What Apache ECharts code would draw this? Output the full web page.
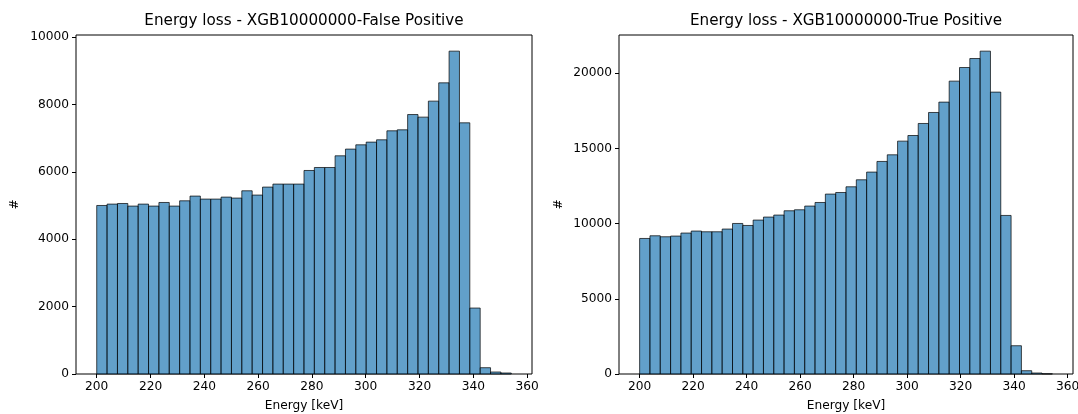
<!DOCTYPE html>
<html>
<head>
<meta charset="utf-8">
<script src="https://cdn.jsdelivr.net/npm/echarts@6/dist/echarts.min.js"></script>
<style>
html,body{margin:0;padding:0;background:#fff;}
#c{width:1078px;height:414px;}
</style>
</head>
<body>
<div id="c"></div>
<script>
// ---- data ----
const titles = ['Energy loss - XGB10000000-False Positive', 'Energy loss - XGB10000000-True Positive'];
const xLabel = 'Energy [keV]';
const yLabel = '#';
const leftRange = [200, 354.1];   // histogram range (keV)
const rightRange = [200, 354.3];
const xTicks = [200, 220, 240, 260, 280, 300, 320, 340, 360];
const leftYTicks = [0, 2000, 4000, 6000, 8000, 10000];
const rightYTicks = [0, 5000, 10000, 15000, 20000];
const leftCounts = [5003, 5044, 5062, 4985, 5044, 4985, 5092, 4985, 5142, 5282,
  5193, 5193, 5252, 5223, 5439, 5312, 5549, 5638, 5638, 5638,
  6042, 6131, 6131, 6478, 6677, 6804, 6884, 6953, 7220, 7249,
  7703, 7626, 8101, 8644, 9585, 7457, 1958, 187, 59, 30];
const rightCounts = [9010, 9189, 9123, 9169, 9369, 9502, 9455, 9455, 9635, 10007,
  9874, 10233, 10432, 10565, 10851, 10917, 11163, 11402, 11960, 12066,
  12445, 12910, 13422, 14130, 14571, 15480, 15854, 16654, 17385, 18073,
  19468, 20374, 20971, 21462, 18738, 10540, 1880, 219, 66, 12];

// ---- build ----
function bins(range, counts) {
  const w = (range[1] - range[0]) / counts.length;
  return counts.map((c, i) => [range[0] + i * w, range[0] + (i + 1) * w, c]);
}
function xLim(range) {
  const m = 0.05 * (range[1] - range[0]);
  return [range[0] - m, range[1] + m];
}
const FONT = 'DejaVu Sans';
const TICK_FS = 12.2;
const fill = 'rgba(31,119,180,0.7)';
const edge = 'rgba(0,0,0,0.7)';

function renderItem(params, api) {
  const p0 = api.coord([api.value(0), api.value(2)]);
  const p1 = api.coord([api.value(1), 0]);
  return {
    type: 'rect',
    shape: { x: p0[0], y: p0[1], width: p1[0] - p0[0], height: p1[1] - p0[1] },
    style: { fill: fill, stroke: edge, lineWidth: 1 }
  };
}

const grids = [
  { left: 76, right: 546, top: 35, bottom: 40 },
  { left: 619, right: 5, top: 35, bottom: 40 }
];
const ranges = [leftRange, rightRange];
const counts = [leftCounts, rightCounts];
const yTicks = [leftYTicks, rightYTicks];
const plain = v => String(Math.round(v));

const option = {
  animation: false,
  backgroundColor: '#fff',
  title: grids.map((g, i) => ({
    text: titles[i],
    left: i === 0 ? 299 : 841,
    top: 9,
    textAlign: 'center',
    textStyle: { fontFamily: FONT, fontSize: 15.2, fontWeight: 'normal', color: '#000' }
  })),
  grid: grids.map(g => Object.assign({ show: true, borderColor: '#000', borderWidth: 1, backgroundColor: 'transparent', containLabel: false, outerBoundsMode: 'none' }, g)),
  xAxis: grids.map((g, i) => {
    const lim = xLim(ranges[i]);
    return {
      type: 'value', gridIndex: i, min: lim[0], max: lim[1],
      name: xLabel, nameLocation: 'middle', nameGap: 26,
      nameTextStyle: { fontFamily: FONT, fontSize: TICK_FS, color: '#000' },
      axisLine: { show: false },
      splitLine: { show: false },
      axisTick: { show: true, inside: false, length: 4, customValues: xTicks, lineStyle: { color: '#000', width: 1 } },
      axisLabel: { customValues: xTicks, margin: 7, formatter: plain, fontFamily: FONT, fontSize: TICK_FS, color: '#000' }
    };
  }),
  yAxis: grids.map((g, i) => {
    const mx = Math.max.apply(null, counts[i]) * 1.05;
    return {
      type: 'value', gridIndex: i, min: 0, max: mx,
      name: yLabel, nameLocation: 'middle', nameGap: i === 0 ? 55 : 54,
      nameRotate: 90,
      nameTextStyle: { fontFamily: FONT, fontSize: TICK_FS, color: '#000' },
      axisLine: { show: false },
      splitLine: { show: false },
      axisTick: { show: true, inside: false, length: 4, customValues: yTicks[i], lineStyle: { color: '#000', width: 1 } },
      axisLabel: { customValues: yTicks[i], margin: 7, formatter: plain, fontFamily: FONT, fontSize: TICK_FS, color: '#000' }
    };
  }),
  series: grids.map((g, i) => ({
    type: 'custom', xAxisIndex: i, yAxisIndex: i,
    renderItem: renderItem,
    encode: { x: [0, 1], y: 2 },
    data: bins(ranges[i], counts[i]),
    clip: false
  }))
};
const chart = echarts.init(document.getElementById('c'), null, { renderer: 'canvas' });
chart.setOption(option);
</script>
</body>
</html>
